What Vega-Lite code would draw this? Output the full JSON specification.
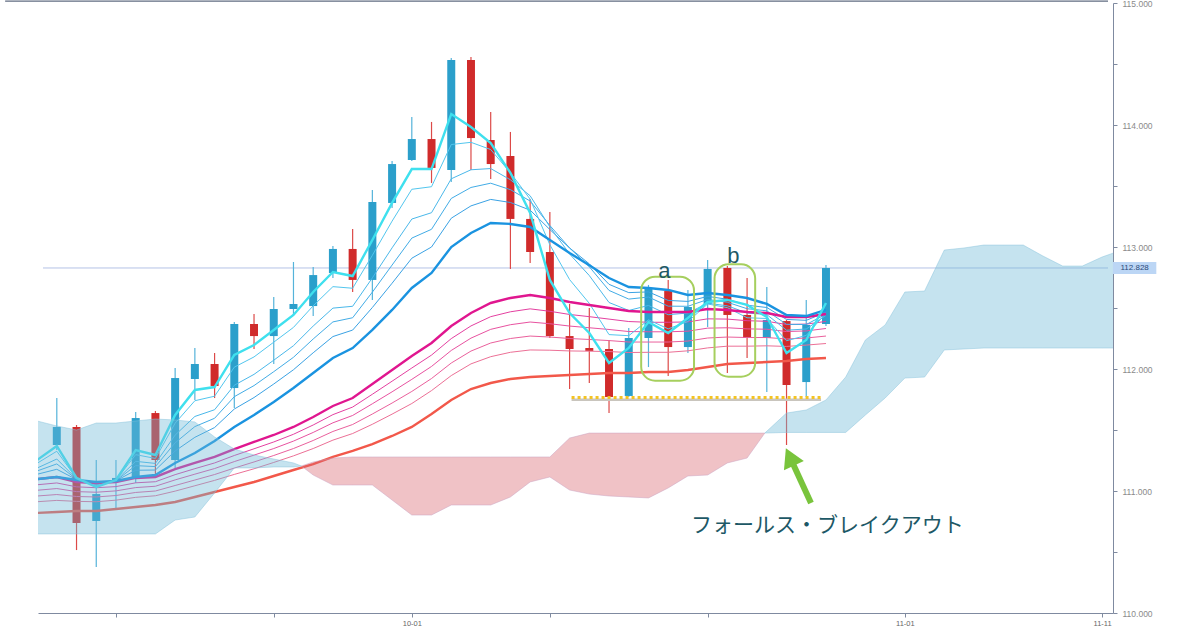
{
  "$schema": "https://vega.github.io/schema/vega-lite/v6.json",
  "width": 1075,
  "height": 610,
  "autosize": {"type": "none"},
  "padding": {"left": 38, "top": 3, "right": 87, "bottom": 17},
  "background": "#ffffff",
  "config": {"view": {"stroke": null}, "font": "Liberation Sans"},
  "resolve": {"scale": {"color": "independent"}},
  "datasets": {
    "candles": [
      {"i": 0, "o": 111.377, "h": 111.762, "l": 111.336, "c": 111.525, "d": "u"},
      {"i": 1, "o": 111.525, "h": 111.541, "l": 110.516, "c": 110.738, "d": "d"},
      {"i": 2, "o": 110.754, "h": 111.254, "l": 110.377, "c": 110.975, "d": "u"},
      {"i": 3, "o": 111.082, "h": 111.254, "l": 110.861, "c": 111.107, "d": "u"},
      {"i": 4, "o": 111.107, "h": 111.648, "l": 111.066, "c": 111.598, "d": "u"},
      {"i": 5, "o": 111.639, "h": 111.656, "l": 111.115, "c": 111.254, "d": "d"},
      {"i": 6, "o": 111.254, "h": 112.008, "l": 111.189, "c": 111.926, "d": "u"},
      {"i": 7, "o": 111.918, "h": 112.172, "l": 111.746, "c": 112.041, "d": "u"},
      {"i": 8, "o": 112.041, "h": 112.131, "l": 111.762, "c": 111.861, "d": "d"},
      {"i": 9, "o": 111.844, "h": 112.385, "l": 111.680, "c": 112.369, "d": "u"},
      {"i": 10, "o": 112.369, "h": 112.451, "l": 112.164, "c": 112.270, "d": "d"},
      {"i": 11, "o": 112.270, "h": 112.590, "l": 112.041, "c": 112.492, "d": "u"},
      {"i": 12, "o": 112.492, "h": 112.877, "l": 112.443, "c": 112.533, "d": "u"},
      {"i": 13, "o": 112.516, "h": 112.836, "l": 112.434, "c": 112.770, "d": "u"},
      {"i": 14, "o": 112.787, "h": 113.008, "l": 112.746, "c": 112.984, "d": "u"},
      {"i": 15, "o": 112.984, "h": 113.148, "l": 112.631, "c": 112.730, "d": "d"},
      {"i": 16, "o": 112.730, "h": 113.467, "l": 112.566, "c": 113.369, "d": "u"},
      {"i": 17, "o": 113.361, "h": 113.705, "l": 113.320, "c": 113.680, "d": "u"},
      {"i": 18, "o": 113.713, "h": 114.066, "l": 113.705, "c": 113.885, "d": "u"},
      {"i": 19, "o": 113.885, "h": 114.025, "l": 113.525, "c": 113.648, "d": "d"},
      {"i": 20, "o": 113.631, "h": 114.549, "l": 113.533, "c": 114.533, "d": "u"},
      {"i": 21, "o": 114.533, "h": 114.557, "l": 113.631, "c": 113.893, "d": "d"},
      {"i": 22, "o": 113.877, "h": 114.107, "l": 113.557, "c": 113.680, "d": "d"},
      {"i": 23, "o": 113.746, "h": 113.943, "l": 112.820, "c": 113.230, "d": "d"},
      {"i": 24, "o": 113.230, "h": 113.393, "l": 112.869, "c": 112.959, "d": "d"},
      {"i": 25, "o": 112.959, "h": 113.287, "l": 112.254, "c": 112.270, "d": "d"},
      {"i": 26, "o": 112.270, "h": 112.533, "l": 111.836, "c": 112.164, "d": "d"},
      {"i": 27, "o": 112.172, "h": 112.500, "l": 111.885, "c": 112.148, "d": "d"},
      {"i": 28, "o": 112.164, "h": 112.238, "l": 111.639, "c": 111.770, "d": "d"},
      {"i": 29, "o": 111.779, "h": 112.336, "l": 111.770, "c": 112.254, "d": "u"},
      {"i": 30, "o": 112.254, "h": 112.689, "l": 112.016, "c": 112.664, "d": "u"},
      {"i": 31, "o": 112.639, "h": 112.730, "l": 111.943, "c": 112.180, "d": "d"},
      {"i": 32, "o": 112.180, "h": 112.648, "l": 112.131, "c": 112.508, "d": "u"},
      {"i": 33, "o": 112.533, "h": 112.893, "l": 112.344, "c": 112.820, "d": "u"},
      {"i": 34, "o": 112.828, "h": 112.844, "l": 111.967, "c": 112.443, "d": "d"},
      {"i": 35, "o": 112.443, "h": 112.746, "l": 112.090, "c": 112.254, "d": "d"},
      {"i": 36, "o": 112.254, "h": 112.672, "l": 111.811, "c": 112.402, "d": "u"},
      {"i": 37, "o": 112.393, "h": 112.402, "l": 111.377, "c": 111.869, "d": "d"},
      {"i": 38, "o": 111.893, "h": 112.566, "l": 111.770, "c": 112.361, "d": "u"},
      {"i": 39, "o": 112.369, "h": 112.852, "l": 112.352, "c": 112.828, "d": "u"}
    ],
    "ma": [
      {"i": -1, "c": 111.254, "t1": 111.227, "t2": 111.188, "t3": 111.164, "t4": 111.137, "b": 111.098, "m": 111.098, "l1": 111.051, "l2": 111.006, "l3": 110.959, "l4": 110.912, "r": 110.820},
      {"i": 0, "c": 111.369, "t1": 111.326, "t2": 111.262, "t3": 111.222, "t4": 111.178, "b": 111.115, "m": 111.115, "l1": 111.066, "l2": 111.020, "l3": 110.971, "l4": 110.923, "r": 110.828},
      {"i": 1, "c": 111.107, "t1": 111.104, "t2": 111.100, "t3": 111.097, "t4": 111.094, "b": 111.090, "m": 111.074, "l1": 111.034, "l2": 110.995, "l3": 110.955, "l4": 110.915, "r": 110.836},
      {"i": 2, "c": 111.033, "t1": 111.040, "t2": 111.050, "t3": 111.057, "t4": 111.064, "b": 111.074, "m": 111.066, "l1": 111.027, "l2": 110.990, "l3": 110.951, "l4": 110.912, "r": 110.836},
      {"i": 3, "c": 111.090, "t1": 111.089, "t2": 111.087, "t3": 111.085, "t4": 111.084, "b": 111.082, "m": 111.074, "l1": 111.036, "l2": 111.001, "l3": 110.963, "l4": 110.925, "r": 110.852},
      {"i": 4, "c": 111.336, "t1": 111.298, "t2": 111.243, "t3": 111.208, "t4": 111.170, "b": 111.115, "m": 111.107, "l1": 111.067, "l2": 111.028, "l3": 110.988, "l4": 110.948, "r": 110.869},
      {"i": 5, "c": 111.295, "t1": 111.267, "t2": 111.226, "t3": 111.200, "t4": 111.172, "b": 111.131, "m": 111.115, "l1": 111.076, "l2": 111.039, "l3": 111.000, "l4": 110.961, "r": 110.885},
      {"i": 6, "c": 111.623, "t1": 111.556, "t2": 111.458, "t3": 111.395, "t4": 111.328, "b": 111.230, "m": 111.180, "l1": 111.134, "l2": 111.091, "l3": 111.045, "l4": 110.999, "r": 110.910},
      {"i": 7, "c": 111.828, "t1": 111.740, "t2": 111.611, "t3": 111.528, "t4": 111.440, "b": 111.311, "m": 111.230, "l1": 111.183, "l2": 111.138, "l3": 111.090, "l4": 111.043, "r": 110.951},
      {"i": 8, "c": 111.852, "t1": 111.777, "t2": 111.666, "t3": 111.596, "t4": 111.520, "b": 111.410, "m": 111.279, "l1": 111.230, "l2": 111.184, "l3": 111.135, "l4": 111.087, "r": 110.992},
      {"i": 9, "c": 112.115, "t1": 112.015, "t2": 111.867, "t3": 111.773, "t4": 111.672, "b": 111.525, "m": 111.344, "l1": 111.291, "l2": 111.241, "l3": 111.188, "l4": 111.136, "r": 111.033},
      {"i": 10, "c": 112.197, "t1": 112.099, "t2": 111.956, "t3": 111.864, "t4": 111.766, "b": 111.623, "m": 111.402, "l1": 111.346, "l2": 111.294, "l3": 111.238, "l4": 111.182, "r": 111.074},
      {"i": 11, "c": 112.320, "t1": 112.220, "t2": 112.072, "t3": 111.978, "t4": 111.877, "b": 111.730, "m": 111.459, "l1": 111.402, "l2": 111.348, "l3": 111.291, "l4": 111.234, "r": 111.123},
      {"i": 12, "c": 112.443, "t1": 112.341, "t2": 112.191, "t3": 112.096, "t4": 111.994, "b": 111.844, "m": 111.525, "l1": 111.465, "l2": 111.409, "l3": 111.348, "l4": 111.288, "r": 111.172},
      {"i": 13, "c": 112.631, "t1": 112.518, "t2": 112.352, "t3": 112.246, "t4": 112.133, "b": 111.967, "m": 111.607, "l1": 111.541, "l2": 111.480, "l3": 111.414, "l4": 111.348, "r": 111.221},
      {"i": 14, "c": 112.795, "t1": 112.675, "t2": 112.499, "t3": 112.386, "t4": 112.266, "b": 112.090, "m": 111.697, "l1": 111.626, "l2": 111.559, "l3": 111.488, "l4": 111.417, "r": 111.279},
      {"i": 15, "c": 112.762, "t1": 112.662, "t2": 112.514, "t3": 112.420, "t4": 112.319, "b": 112.172, "m": 111.762, "l1": 111.688, "l2": 111.619, "l3": 111.545, "l4": 111.471, "r": 111.328},
      {"i": 16, "c": 113.057, "t1": 112.932, "t2": 112.747, "t3": 112.630, "t4": 112.504, "b": 112.320, "m": 111.877, "l1": 111.793, "l2": 111.715, "l3": 111.631, "l4": 111.547, "r": 111.385},
      {"i": 17, "c": 113.361, "t1": 113.212, "t2": 112.993, "t3": 112.852, "t4": 112.703, "b": 112.484, "m": 111.992, "l1": 111.900, "l2": 111.813, "l3": 111.721, "l4": 111.630, "r": 111.451},
      {"i": 18, "c": 113.639, "t1": 113.473, "t2": 113.229, "t3": 113.073, "t4": 112.908, "b": 112.664, "m": 112.107, "l1": 112.008, "l2": 111.915, "l3": 111.816, "l4": 111.717, "r": 111.525},
      {"i": 19, "c": 113.639, "t1": 113.494, "t2": 113.281, "t3": 113.145, "t4": 113.000, "b": 112.787, "m": 112.213, "l1": 112.114, "l2": 112.021, "l3": 111.922, "l4": 111.823, "r": 111.631},
      {"i": 20, "c": 114.090, "t1": 113.840, "t2": 113.559, "t3": 113.398, "t4": 113.236, "b": 113.000, "m": 112.352, "l1": 112.249, "l2": 112.152, "l3": 112.049, "l4": 111.946, "r": 111.746},
      {"i": 21, "c": 113.984, "t1": 113.858, "t2": 113.633, "t3": 113.488, "t4": 113.337, "b": 113.115, "m": 112.459, "l1": 112.353, "l2": 112.253, "l3": 112.147, "l4": 112.042, "r": 111.836},
      {"i": 22, "c": 113.852, "t1": 113.799, "t2": 113.643, "t3": 113.523, "t4": 113.390, "b": 113.197, "m": 112.541, "l1": 112.429, "l2": 112.325, "l3": 112.213, "l4": 112.101, "r": 111.885},
      {"i": 23, "c": 113.607, "t1": 113.609, "t2": 113.551, "t3": 113.470, "t4": 113.365, "b": 113.189, "m": 112.582, "l1": 112.469, "l2": 112.363, "l3": 112.250, "l4": 112.137, "r": 111.918},
      {"i": 24, "c": 113.279, "t1": 113.392, "t2": 113.420, "t3": 113.377, "t4": 113.302, "b": 113.164, "m": 112.607, "l1": 112.493, "l2": 112.385, "l3": 112.270, "l4": 112.156, "r": 111.934},
      {"i": 25, "c": 112.730, "t1": 113.018, "t2": 113.165, "t3": 113.176, "t4": 113.143, "b": 113.057, "m": 112.582, "l1": 112.473, "l2": 112.371, "l3": 112.262, "l4": 112.154, "r": 111.943},
      {"i": 26, "c": 112.459, "t1": 112.733, "t2": 112.943, "t3": 112.992, "t4": 112.992, "b": 112.951, "m": 112.549, "l1": 112.447, "l2": 112.352, "l3": 112.250, "l4": 112.148, "r": 111.951},
      {"i": 27, "c": 112.295, "t1": 112.538, "t2": 112.766, "t3": 112.838, "t4": 112.862, "b": 112.851, "m": 112.525, "l1": 112.429, "l2": 112.338, "l3": 112.242, "l4": 112.146, "r": 111.959},
      {"i": 28, "c": 112.049, "t1": 112.282, "t2": 112.545, "t3": 112.644, "t4": 112.694, "b": 112.746, "m": 112.500, "l1": 112.409, "l2": 112.324, "l3": 112.233, "l4": 112.143, "r": 111.967},
      {"i": 29, "c": 112.172, "t1": 112.273, "t2": 112.480, "t3": 112.573, "t4": 112.626, "b": 112.672, "m": 112.475, "l1": 112.389, "l2": 112.307, "l3": 112.221, "l4": 112.135, "r": 111.967},
      {"i": 30, "c": 112.385, "t1": 112.403, "t2": 112.521, "t3": 112.590, "t4": 112.632, "b": 112.664, "m": 112.467, "l1": 112.383, "l2": 112.305, "l3": 112.221, "l4": 112.137, "r": 111.975},
      {"i": 31, "c": 112.295, "t1": 112.329, "t2": 112.445, "t3": 112.515, "t4": 112.562, "b": 112.648, "m": 112.467, "l1": 112.383, "l2": 112.305, "l3": 112.221, "l4": 112.137, "r": 111.975},
      {"i": 32, "c": 112.418, "t1": 112.389, "t2": 112.459, "t3": 112.514, "t4": 112.554, "b": 112.607, "m": 112.467, "l1": 112.386, "l2": 112.310, "l3": 112.229, "l4": 112.149, "r": 111.992},
      {"i": 33, "c": 112.549, "t1": 112.533, "t2": 112.539, "t3": 112.570, "t4": 112.595, "b": 112.623, "m": 112.492, "l1": 112.411, "l2": 112.335, "l3": 112.254, "l4": 112.173, "r": 112.016},
      {"i": 34, "c": 112.566, "t1": 112.503, "t2": 112.518, "t3": 112.547, "t4": 112.572, "b": 112.607, "m": 112.484, "l1": 112.409, "l2": 112.338, "l3": 112.262, "l4": 112.187, "r": 112.041},
      {"i": 35, "c": 112.525, "t1": 112.420, "t2": 112.459, "t3": 112.494, "t4": 112.523, "b": 112.582, "m": 112.467, "l1": 112.396, "l2": 112.329, "l3": 112.258, "l4": 112.187, "r": 112.049},
      {"i": 36, "c": 112.426, "t1": 112.414, "t2": 112.446, "t3": 112.477, "t4": 112.504, "b": 112.533, "m": 112.459, "l1": 112.391, "l2": 112.326, "l3": 112.258, "l4": 112.190, "r": 112.057},
      {"i": 37, "c": 112.131, "t1": 112.232, "t2": 112.318, "t3": 112.366, "t4": 112.406, "b": 112.443, "m": 112.426, "l1": 112.365, "l2": 112.307, "l3": 112.246, "l4": 112.185, "r": 112.066},
      {"i": 38, "c": 112.238, "t1": 112.275, "t2": 112.328, "t3": 112.365, "t4": 112.399, "b": 112.434, "m": 112.426, "l1": 112.368, "l2": 112.312, "l3": 112.254, "l4": 112.196, "r": 112.082},
      {"i": 39, "c": 112.541, "t1": 112.459, "t2": 112.439, "t3": 112.449, "t4": 112.465, "b": 112.484, "m": 112.451, "l1": 112.390, "l2": 112.332, "l3": 112.270, "l4": 112.209, "r": 112.090}
    ],
    "cloudBlue": [
      {"s": "L", "i": -1, "t": 111.574, "b": 110.648},
      {"s": "L", "i": 0, "t": 111.533, "b": 110.648},
      {"s": "L", "i": 1, "t": 111.500, "b": 110.648},
      {"s": "L", "i": 2, "t": 111.557, "b": 110.648},
      {"s": "L", "i": 3, "t": 111.557, "b": 110.648},
      {"s": "L", "i": 4, "t": 111.574, "b": 110.648},
      {"s": "L", "i": 5, "t": 111.590, "b": 110.648},
      {"s": "L", "i": 6, "t": 111.582, "b": 110.762},
      {"s": "L", "i": 7, "t": 111.566, "b": 110.787},
      {"s": "L", "i": 8, "t": 111.443, "b": 110.984},
      {"s": "L", "i": 9, "t": 111.344, "b": 111.189},
      {"s": "L", "i": 10, "t": 111.295, "b": 111.189},
      {"s": "L", "i": 11, "t": 111.262, "b": 111.197},
      {"s": "L", "i": 12, "t": 111.230, "b": 111.197},
      {"s": "L", "i": 12.4, "t": 111.205, "b": 111.205},
      {"s": "R", "i": 35.9, "t": 111.475, "b": 111.475},
      {"s": "R", "i": 37, "t": 111.639, "b": 111.480},
      {"s": "R", "i": 38, "t": 111.664, "b": 111.480},
      {"s": "R", "i": 39, "t": 111.746, "b": 111.480},
      {"s": "R", "i": 40, "t": 111.934, "b": 111.480},
      {"s": "R", "i": 41, "t": 112.238, "b": 111.623},
      {"s": "R", "i": 42, "t": 112.361, "b": 111.762},
      {"s": "R", "i": 43, "t": 112.631, "b": 111.926},
      {"s": "R", "i": 44, "t": 112.639, "b": 111.934},
      {"s": "R", "i": 45, "t": 112.975, "b": 112.156},
      {"s": "R", "i": 46, "t": 112.992, "b": 112.164},
      {"s": "R", "i": 47, "t": 113.016, "b": 112.172},
      {"s": "R", "i": 48, "t": 113.016, "b": 112.172},
      {"s": "R", "i": 49, "t": 113.016, "b": 112.172},
      {"s": "R", "i": 50, "t": 112.926, "b": 112.172},
      {"s": "R", "i": 51, "t": 112.844, "b": 112.172},
      {"s": "R", "i": 52, "t": 112.844, "b": 112.172},
      {"s": "R", "i": 53, "t": 112.918, "b": 112.172},
      {"s": "R", "i": 54, "t": 112.975, "b": 112.172}
    ],
    "cloudPink": [
      {"i": 12.4, "t": 111.205, "b": 111.205},
      {"i": 13, "t": 111.238, "b": 111.131},
      {"i": 14, "t": 111.270, "b": 111.049},
      {"i": 15, "t": 111.279, "b": 111.049},
      {"i": 16, "t": 111.279, "b": 111.049},
      {"i": 17, "t": 111.279, "b": 110.926},
      {"i": 18, "t": 111.279, "b": 110.803},
      {"i": 19, "t": 111.279, "b": 110.803},
      {"i": 20, "t": 111.279, "b": 110.885},
      {"i": 21, "t": 111.279, "b": 110.885},
      {"i": 22, "t": 111.279, "b": 110.885},
      {"i": 23, "t": 111.279, "b": 110.951},
      {"i": 24, "t": 111.279, "b": 111.074},
      {"i": 25, "t": 111.279, "b": 111.115},
      {"i": 26, "t": 111.434, "b": 111.008},
      {"i": 27, "t": 111.475, "b": 110.975},
      {"i": 28, "t": 111.475, "b": 110.959},
      {"i": 29, "t": 111.475, "b": 110.951},
      {"i": 30, "t": 111.475, "b": 110.943},
      {"i": 31, "t": 111.475, "b": 111.025},
      {"i": 32, "t": 111.475, "b": 111.123},
      {"i": 33, "t": 111.475, "b": 111.131},
      {"i": 34, "t": 111.475, "b": 111.230},
      {"i": 35, "t": 111.475, "b": 111.270},
      {"i": 35.9, "t": 111.475, "b": 111.475}
    ]
  },
  "layer": [
    {
      "data": {"values": [{"i": -0.7, "i2": 53.3, "y": 112.828}]},
      "mark": {"type": "rule", "color": "#b4c2e6", "strokeWidth": 1},
      "encoding": {
        "x": {"field": "i", "type": "quantitative", "scale": {"domain": [-0.7, 53.3], "nice": false, "zero": false},
          "axis": {"values": [3, 11, 18, 25, 33, 43, 53], "labelExpr": "datum.value == 18 ? '10-01' : datum.value == 43 ? '11-01' : datum.value == 53 ? '11-11' : ''", "title": null, "grid": false, "domainColor": "#7f8aa0", "tickColor": "#7f8aa0", "tickSize": 4, "labelFontSize": 7.5, "labelColor": "#666666", "labelPadding": 2, "labelFlush": false, "labelOverlap": false}},
        "x2": {"field": "i2"},
        "y": {"field": "y", "type": "quantitative", "scale": {"domain": [110, 115], "nice": false, "zero": false},
          "axis": {"orient": "right", "values": [110, 110.5, 111, 111.5, 112, 112.5, 113, 113.5, 114, 114.5, 115], "labelExpr": "datum.value % 1 == 0 ? format(datum.value, '.3f') : ''", "title": null, "grid": false, "domainColor": "#7f8aa0", "tickColor": "#7f8aa0", "tickSize": 4, "labelFontSize": 8.5, "labelColor": "#8a8a8a", "labelPadding": 5, "labelFlush": false, "labelBound": false, "labelOverlap": false}}
      }
    },
    {
      "data": {"values": [{"i": -2.62, "i2": 53.3, "y": 115.016}]},
      "mark": {"type": "rule", "color": "#5f6b80", "strokeWidth": 1.2, "clip": false},
      "encoding": {
        "x": {"field": "i", "type": "quantitative", "scale": {"domain": [-0.7, 53.3], "nice": false, "zero": false}},
        "x2": {"field": "i2"},
        "y": {"field": "y", "type": "quantitative", "scale": {"domain": [110, 115], "nice": false, "zero": false}}
      }
    },
    {
      "data": {"name": "candles"},
      "mark": {"type": "rule", "strokeWidth": 1.2},
      "encoding": {
        "x": {"field": "i", "type": "quantitative", "scale": {"domain": [-0.7, 53.3], "nice": false, "zero": false}},
        "y": {"field": "l", "type": "quantitative", "scale": {"domain": [110, 115], "nice": false, "zero": false}},
        "y2": {"field": "h"},
        "color": {"condition": {"test": "datum.d == 'u'", "value": "#55b3da"}, "value": "#dc4a48"}
      }
    },
    {
      "data": {"name": "candles"},
      "mark": {"type": "bar", "width": 8},
      "encoding": {
        "x": {"field": "i", "type": "quantitative", "scale": {"domain": [-0.7, 53.3], "nice": false, "zero": false}},
        "y": {"field": "o", "type": "quantitative", "scale": {"domain": [110, 115], "nice": false, "zero": false}},
        "y2": {"field": "c"},
        "color": {"condition": {"test": "datum.d == 'u'", "value": "#2b9fcb"}, "value": "#d02b2b"}
      }
    },
    {
      "data": {"name": "ma"},
      "transform": [{"fold": ["l4", "l3", "l2", "l1", "t4", "t3", "t2", "t1"], "as": ["k", "v"]}],
      "mark": {"type": "line", "strokeWidth": 1, "clip": true},
      "encoding": {
        "x": {"field": "i", "type": "quantitative", "scale": {"domain": [-0.7, 53.3], "nice": false, "zero": false}},
        "y": {"field": "v", "type": "quantitative", "scale": {"domain": [110, 115], "nice": false, "zero": false}},
        "color": {"field": "k", "type": "nominal", "legend": null,
          "scale": {"domain": ["l4", "l3", "l2", "l1", "t4", "t3", "t2", "t1"], "range": ["#ec7096", "#ea609c", "#e852a0", "#e440a0", "#3aa2e4", "#42ace6", "#4ab8ea", "#52c6ee"]}}
      }
    },
    {
      "data": {"name": "ma"},
      "transform": [{"fold": ["r", "m", "b", "c"], "as": ["k", "v"]}],
      "mark": {"type": "line", "strokeWidth": 2.4, "clip": true},
      "encoding": {
        "x": {"field": "i", "type": "quantitative", "scale": {"domain": [-0.7, 53.3], "nice": false, "zero": false}},
        "y": {"field": "v", "type": "quantitative", "scale": {"domain": [110, 115], "nice": false, "zero": false}},
        "color": {"field": "k", "type": "nominal", "legend": null,
          "scale": {"domain": ["r", "m", "b", "c"], "range": ["#f2584a", "#e0168f", "#1a93e0", "#3fe0ee"]}}
      }
    },
    {
      "data": {"name": "cloudBlue"},
      "mark": {"type": "area", "fill": "#6eb9d7", "fillOpacity": 0.4, "stroke": "#86c2dc", "strokeOpacity": 0.6, "strokeWidth": 0.8, "clip": true},
      "encoding": {
        "x": {"field": "i", "type": "quantitative", "scale": {"domain": [-0.7, 53.3], "nice": false, "zero": false}},
        "y": {"field": "t", "type": "quantitative", "scale": {"domain": [110, 115], "nice": false, "zero": false}},
        "y2": {"field": "b"},
        "detail": {"field": "s"}
      }
    },
    {
      "data": {"name": "cloudPink"},
      "mark": {"type": "area", "fill": "#d96670", "fillOpacity": 0.4, "stroke": "#c8a0c0", "strokeOpacity": 0.6, "strokeWidth": 0.8, "clip": true},
      "encoding": {
        "x": {"field": "i", "type": "quantitative", "scale": {"domain": [-0.7, 53.3], "nice": false, "zero": false}},
        "y": {"field": "t", "type": "quantitative", "scale": {"domain": [110, 115], "nice": false, "zero": false}},
        "y2": {"field": "b"}
      }
    },
    {
      "data": {"values": [{"i": 26.1, "i2": 38.75, "y": 111.748}]},
      "mark": {"type": "rule", "color": "#c9c5bd", "strokeWidth": 2.5},
      "encoding": {
        "x": {"field": "i", "type": "quantitative", "scale": {"domain": [-0.7, 53.3], "nice": false, "zero": false}},
        "x2": {"field": "i2"},
        "y": {"field": "y", "type": "quantitative", "scale": {"domain": [110, 115], "nice": false, "zero": false}}
      }
    },
    {
      "data": {"values": [{"i": 26.1, "i2": 38.75, "y": 111.766}]},
      "mark": {"type": "rule", "color": "#f3c323", "strokeWidth": 3, "strokeDash": [3, 3]},
      "encoding": {
        "x": {"field": "i", "type": "quantitative", "scale": {"domain": [-0.7, 53.3], "nice": false, "zero": false}},
        "x2": {"field": "i2"},
        "y": {"field": "y", "type": "quantitative", "scale": {"domain": [110, 115], "nice": false, "zero": false}}
      }
    },
    {
      "data": {"values": [
        {"i": 29.63, "i2": 32.31, "y": 112.757, "y2": 111.904},
        {"i": 33.35, "i2": 35.41, "y": 112.858, "y2": 111.937}
      ]},
      "mark": {"type": "rect", "fill": "#ffffff", "fillOpacity": 0, "stroke": "#a6cf5e", "strokeWidth": 2, "cornerRadius": 14},
      "encoding": {
        "x": {"field": "i", "type": "quantitative", "scale": {"domain": [-0.7, 53.3], "nice": false, "zero": false}},
        "x2": {"field": "i2"},
        "y": {"field": "y", "type": "quantitative", "scale": {"domain": [110, 115], "nice": false, "zero": false}},
        "y2": {"field": "y2"}
      }
    },
    {
      "data": {"values": [
        {"i": 30.8, "y": 112.746, "t": "a"},
        {"i": 34.3, "y": 112.869, "t": "b"}
      ]},
      "mark": {"type": "text", "fontSize": 22, "color": "#1e5a66", "align": "center", "baseline": "alphabetic"},
      "encoding": {
        "x": {"field": "i", "type": "quantitative", "scale": {"domain": [-0.7, 53.3], "nice": false, "zero": false}},
        "y": {"field": "y", "type": "quantitative", "scale": {"domain": [110, 115], "nice": false, "zero": false}},
        "text": {"field": "t"}
      }
    },
    {
      "data": {"values": [{"i": 37.17, "y": 111.279, "i2": 38.24, "y2": 110.902}]},
      "mark": {"type": "rule", "color": "#79c43c", "strokeWidth": 6},
      "encoding": {
        "x": {"field": "i", "type": "quantitative", "scale": {"domain": [-0.7, 53.3], "nice": false, "zero": false}},
        "x2": {"field": "i2"},
        "y": {"field": "y", "type": "quantitative", "scale": {"domain": [110, 115], "nice": false, "zero": false}},
        "y2": {"field": "y2"}
      }
    },
    {
      "data": {"values": [{"i": 37.17, "y": 111.279}]},
      "mark": {"type": "point", "shape": "triangle-up", "angle": -25, "size": 480, "filled": true, "color": "#79c43c", "opacity": 1},
      "encoding": {
        "x": {"field": "i", "type": "quantitative", "scale": {"domain": [-0.7, 53.3], "nice": false, "zero": false}},
        "y": {"field": "y", "type": "quantitative", "scale": {"domain": [110, 115], "nice": false, "zero": false}}
      }
    },
    {
      "data": {"values": [{"i": 32.16, "y": 110.713, "t": "フォールス・ブレイクアウト"}]},
      "mark": {"type": "text", "font": "Noto Sans CJK JP", "fontSize": 21, "color": "#1d5866", "align": "left", "baseline": "middle"},
      "encoding": {
        "x": {"field": "i", "type": "quantitative", "scale": {"domain": [-0.7, 53.3], "nice": false, "zero": false}},
        "y": {"field": "y", "type": "quantitative", "scale": {"domain": [110, 115], "nice": false, "zero": false}},
        "text": {"field": "t"}
      }
    },
    {
      "data": {"values": [{"i": 53.55, "i2": 55.75, "y": 112.877, "y2": 112.779}]},
      "mark": {"type": "rect", "fill": "#bcd6f5", "clip": false},
      "encoding": {
        "x": {"field": "i", "type": "quantitative", "scale": {"domain": [-0.7, 53.3], "nice": false, "zero": false}},
        "x2": {"field": "i2"},
        "y": {"field": "y", "type": "quantitative", "scale": {"domain": [110, 115], "nice": false, "zero": false}},
        "y2": {"field": "y2"}
      }
    },
    {
      "data": {"values": [{"i": 54.65, "y": 112.828, "t": "112.828"}]},
      "mark": {"type": "text", "fontSize": 8, "color": "#2b4a7a", "align": "center", "baseline": "middle", "clip": false},
      "encoding": {
        "x": {"field": "i", "type": "quantitative", "scale": {"domain": [-0.7, 53.3], "nice": false, "zero": false}},
        "y": {"field": "y", "type": "quantitative", "scale": {"domain": [110, 115], "nice": false, "zero": false}},
        "text": {"field": "t"}
      }
    }
  ]
}
